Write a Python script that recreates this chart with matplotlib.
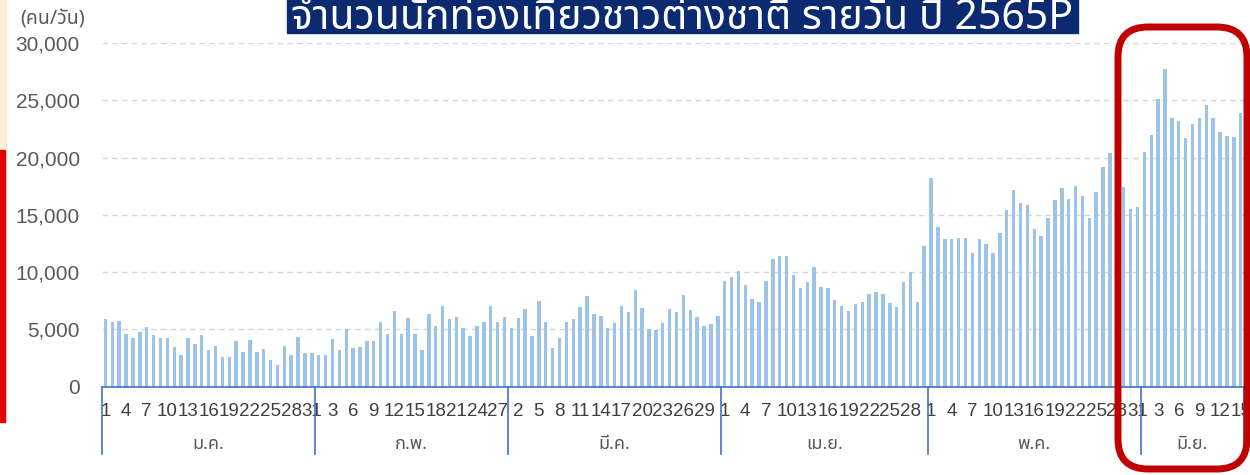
import matplotlib
matplotlib.use("Agg")
import matplotlib.pyplot as plt
from matplotlib import font_manager
from matplotlib.ft2font import FT2Font
from matplotlib.patches import Rectangle, FancyBboxPatch
from matplotlib.transforms import IdentityTransform

# daily foreign tourist arrivals, 1 Jan - 15 Jun 2565 (persons/day)
jan = [5950, 5640, 5750, 4620, 4210, 4780, 5200, 4540, 4250, 4250, 3450,
       2790, 4250, 3690, 4530, 3240, 3570, 2580, 2580, 3950, 3010, 4110,
       3010, 3260, 2340, 1870, 3570, 2790, 4340, 2900, 2970]
feb = [2740, 2780, 4140, 3230, 5010, 3380, 3470, 3950, 3950, 5660, 4620,
       6620, 4620, 6010, 4620, 3230, 6340, 5320, 7060, 5920, 6100, 5090,
       4440, 5310, 5630, 7040, 5650, 6090]
mar = [5120, 5970, 6740, 4410, 7470, 5680, 3380, 4290, 5650, 5880, 6970,
       7880, 6320, 6150, 5150, 5590, 7030, 6500, 8410, 6850, 5000, 4970,
       5590, 6820, 6560, 8030, 6710, 6090, 5260, 5470, 6180]
apr = [9260, 9560, 10120, 8850, 7650, 7380, 9210, 11150, 11380, 11380, 9760,
       8660, 9180, 10450, 8670, 8610, 7580, 7050, 6640, 7230, 7400, 8050,
       8230, 8070, 7300, 7000, 9120, 10000, 7430, 12260]
may = [18270, 13920, 12870, 12870, 13010, 13010, 11700, 12870, 12490, 11700,
       13450, 15410, 17150, 16080, 15840, 13780, 13140, 14710, 16280, 17320,
       16410, 17570, 16670, 14690, 16980, 19190, 20390, 18000, 17430, 15500,
       15680]
jun = [20500, 22000, 25090, 27750, 23470, 23180, 21710, 22970, 23470, 24620,
       23470, 22210, 21910, 21820, 23910]

months = ["ม.ค.", "ก.พ.", "มี.ค.", "เม.ย.", "พ.ค.", "มิ.ย."]
month_data = [jan, feb, mar, apr, may, jun]
yticks = [0, 5000, 10000, 15000, 20000, 25000, 30000]
title = "จำนวนนักท่องเที่ยวชาวต่างชาติ รายวัน ปี 2565P"
unit = "(คน/วัน)"

values, days = [], []
for m in month_data:
    values += m
    days += list(range(1, len(m) + 1))
idx = list(range(len(values)))


def thai_font():
    # find an installed family that has Thai glyphs
    found = []
    for f in font_manager.fontManager.ttflist:
        try:
            cm = FT2Font(f.fname).get_charmap()
        except Exception:
            continue
        if 0x0E01 in cm and 0x0E48 in cm:
            found.append(f.name)
    for pref in ("Noto Sans Thai", "Loma", "Garuda", "Kinnari"):
        if pref in found:
            return pref
    return found[0] if found else None


th = thai_font()
THAI = [th, "Liberation Sans", "DejaVu Sans"] if th else ["Liberation Sans", "DejaVu Sans"]
plt.rcParams["font.family"] = ["Liberation Sans", "DejaVu Sans"]

GRAY = "#595959"
BLUE = "#4472c4"

fig = plt.figure(figsize=(12.5, 4.75), dpi=100)
ax = fig.add_axes([0.0816, 0.186, 0.9137, 0.723])

ax.bar(idx, values, width=0.5, color="#9dc3e6", zorder=2)
ax.set_xlim(-0.5, len(values) - 0.5)
ax.set_ylim(0, 30000)
ax.set_yticks(yticks)
ax.set_yticklabels(["{:,}".format(v) for v in yticks], fontsize=15, color=GRAY)
ax.tick_params(axis="y", length=0, pad=16)
ax.grid(axis="y", color="#d6d6d6", ls=(0, (4, 3)), lw=1, zorder=0)
for s in ("left", "right", "top"):
    ax.spines[s].set_visible(False)
ax.spines["bottom"].set_color(BLUE)
ax.spines["bottom"].set_linewidth(1.2)

ax.set_xticks(idx[::3])
ax.set_xticklabels([str(d) for d in days[::3]], fontsize=13.5, color="#3f3f3f")
ax.tick_params(axis="x", length=0, pad=12)

# month separators and month names under the day labels
tr = ax.get_xaxis_transform()
start = 0
bounds = [-0.5]
for name, m in zip(months, month_data):
    end = start + len(m)
    bounds.append(end - 0.5)
    ax.text((start + end - 1) / 2, -0.167, name, transform=tr, ha="center",
            va="center", fontsize=13, color=GRAY, family=THAI)
    start = end
for b in bounds:
    ax.plot([b, b], [0, -0.196], transform=tr, color=BLUE, lw=1.2, clip_on=False)

# unit label
fig.text(20 / 1250, 1 - 19 / 475, unit, fontsize=14, color=GRAY, va="center",
         family=THAI)

# title banner, cut off at the top edge
fig.patches.append(Rectangle((287 / 1250, 1 - 33 / 475), 791 / 1250, 40 / 475,
                             transform=fig.transFigure, color="#0b2a6f", zorder=1))
fig.text((287 + 1078) / 2 / 1250, 1 - 29 / 475, title, fontsize=29.5, color="white",
         ha="center", va="baseline", family=THAI, zorder=2)

# left edge decorations
fig.patches.append(Rectangle((0, 1 - 150 / 475), 6 / 1250, 150 / 475,
                             transform=fig.transFigure, color="#fbeed5"))
fig.patches.append(Rectangle((0, 1 - 422 / 475), 5 / 1250, 272 / 475,
                             transform=fig.transFigure, color="#e60000"))

# red highlight box around late May - June
fig.patches.append(FancyBboxPatch((1118, 6), 129, 442,
                                  boxstyle="round,pad=0,rounding_size=30",
                                  transform=IdentityTransform(), fill=False,
                                  edgecolor="#c00000", lw=5, zorder=5))

fig.savefig("out.png", dpi=100)
